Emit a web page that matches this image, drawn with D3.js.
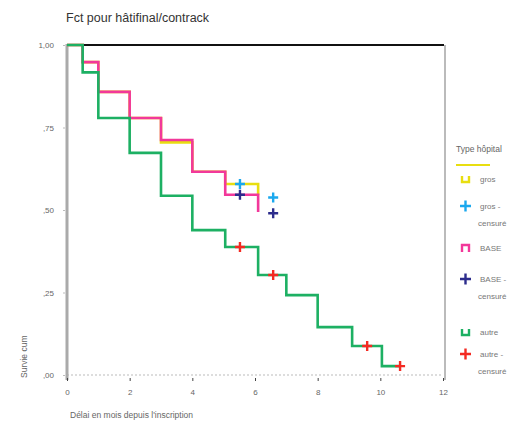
<!DOCTYPE html>
<html><head><meta charset="utf-8">
<script src="https://cdn.jsdelivr.net/npm/d3@7"></script>
<style>body{margin:0;background:#fff;font-family:"Liberation Sans",Arial,sans-serif}</style>
</head><body><svg id="c" width="515" height="428"></svg>
<script>
// ---- data ----
const title = "Fct pour hâtifinal/contrack";
const xTitle = "Délai en mois depuis l'inscription";
const yTitle = "Survie cum";
const legendTitle = "Type hôpital";
const groupNames = ["gros", "BASE", "autre"];
const censoredLabel = "censuré";
const xTicks = [0, 2, 4, 6, 8, 10, 12];
const yTicks = [0, 0.25, 0.5, 0.75, 1];
const yTickLabels = [",00", ",25", ",50", ",75", "1,00"];

// step curves: times and survival
const times1 = [0, 0.5, 1, 2, 3, 4, 5.05, 6.1];
const surv1  = [1, 0.948, 0.858, 0.779, 0.705, 0.616, 0.579, 0.545];
const cens1T = [5.52, 6.58];
const cens1S = [0.579, 0.538];

const times2 = [0, 0.5, 1, 2, 3, 4, 5.05, 6.1];
const surv2  = [1, 0.948, 0.858, 0.779, 0.712, 0.616, 0.546, 0.494];
const cens2T = [5.52, 6.58];
const cens2S = [0.546, 0.49];

const times3 = [0, 0.5, 1, 2, 3, 4, 5.05, 6.1, 7, 8, 9.1, 10.05, 10.63];
const surv3  = [1, 0.917, 0.779, 0.673, 0.543, 0.439, 0.388, 0.303, 0.242, 0.145, 0.088, 0.027, 0.027];
const cens3T = [5.52, 6.58, 9.58, 10.63];
const cens3S = [0.388, 0.303, 0.088, 0.027];

// ---- chart ----
const svg = d3.select("#c");
const L = 67, R = 443, T = 45, B = 375;
const x = d3.scaleLinear().domain([0, 12]).range([L, R]);
const y = d3.scaleLinear().domain([0, 1]).range([B, T]);

const series = [
  {t: times1, s: surv1, ct: cens1T, cs: cens1S, line: "#e8de10", cens: "#1aa8ee"},
  {t: times2, s: surv2, ct: cens2T, cs: cens2S, line: "#f2389a", cens: "#2c2c8c"},
  {t: times3, s: surv3, ct: cens3T, cs: cens3S, line: "#1db063", cens: "#f42a22"}
];

svg.append("text").attr("x", 66).attr("y", 22).attr("font-size", 12.5)
  .attr("fill", "#333").text(title);

// frame
svg.append("line").attr("x1", L).attr("x2", R).attr("y1", B).attr("y2", B)
  .attr("stroke", "#bbb").attr("stroke-width", 1).attr("stroke-dasharray", "2,2");
svg.append("line").attr("x1", L).attr("x2", R + 1).attr("y1", T).attr("y2", T)
  .attr("stroke", "#111").attr("stroke-width", 2);
svg.append("line").attr("x1", L).attr("x2", L).attr("y1", T - 1).attr("y2", B + 5)
  .attr("stroke", "#aaa").attr("stroke-width", 3);
svg.append("line").attr("x1", 445).attr("x2", 445).attr("y1", T).attr("y2", B + 5)
  .attr("stroke", "#bbb").attr("stroke-width", 2);

// x axis
const xa = svg.append("g").attr("transform", `translate(0,${B + 3})`)
  .call(d3.axisBottom(x).tickValues(xTicks).tickSize(3).tickPadding(8));
xa.select(".domain").remove();
xa.selectAll("line").attr("stroke", "#444");
xa.selectAll("text").attr("font-size", 8).attr("fill", "#666")
  .attr("font-family", "Liberation Sans, Arial, sans-serif");

// y axis
const ya = svg.append("g").attr("transform", `translate(${L - 2},0)`)
  .call(d3.axisLeft(y).tickValues(yTicks).tickSize(2).tickPadding(9)
    .tickFormat((d, i) => yTickLabels[i]));
ya.select(".domain").remove();
ya.selectAll("line").attr("stroke", "#bbb");
ya.selectAll("text").attr("font-size", 8).attr("fill", "#666")
  .attr("font-family", "Liberation Sans, Arial, sans-serif");

svg.append("text").attr("transform", `translate(27,378) rotate(-90)`)
  .attr("font-size", 8.5).attr("fill", "#666").text(yTitle);
svg.append("text").attr("x", 70).attr("y", 418).attr("font-size", 8.5)
  .attr("fill", "#666").text(xTitle);

// curves
const step = d3.line().x(d => x(d[0])).y(d => y(d[1])).curve(d3.curveStepAfter);
series.forEach(sr => {
  const pts = sr.t.map((t, i) => [t, sr.s[i]]);
  svg.append("path").attr("d", step(pts)).attr("fill", "none")
    .attr("stroke", sr.line).attr("stroke-width", 2.6);
});
series.forEach(sr => {
  sr.ct.forEach((t, i) => {
    const cx = x(t), cy = y(sr.cs[i]);
    svg.append("path").attr("d", `M${cx - 5},${cy}H${cx + 5}M${cx},${cy - 5}V${cy + 5}`)
      .attr("stroke", sr.cens).attr("stroke-width", 2.4);
  });
});

// legend
const lg = svg.append("g");
lg.append("text").attr("x", 456).attr("y", 152).attr("font-size", 8.5)
  .attr("fill", "#666").text(legendTitle);
lg.append("line").attr("x1", 456).attr("x2", 490).attr("y1", 165).attr("y2", 165)
  .attr("stroke", series[0].line).attr("stroke-width", 2);
const rowY = [[179, 206], [248, 279], [332, 354]];
series.forEach((sr, i) => {
  const [ly, cy] = rowY[i];
  const sym = i === 1 ? `M462,${ly + 4}V${ly - 3}H469V${ly + 4}` : `M462,${ly - 3}V${ly + 3}H469V${ly - 3}`;
  lg.append("path").attr("d", sym).attr("fill", "none").attr("stroke", sr.line).attr("stroke-width", 2.4);
  lg.append("text").attr("x", 480).attr("y", ly + 3).attr("font-size", 8)
    .attr("fill", "#777").text(groupNames[i]);
  lg.append("path").attr("d", `M460,${cy}H471M465.5,${cy - 5.5}V${cy + 5.5}`)
    .attr("stroke", sr.cens).attr("stroke-width", 2.4);
  lg.append("text").attr("x", 480).attr("y", cy + 3).attr("font-size", 8)
    .attr("fill", "#777").text(groupNames[i] + " -");
  lg.append("text").attr("x", 478).attr("y", cy + 20).attr("font-size", 8)
    .attr("fill", "#777").text(censoredLabel);
});
</script></body></html>
